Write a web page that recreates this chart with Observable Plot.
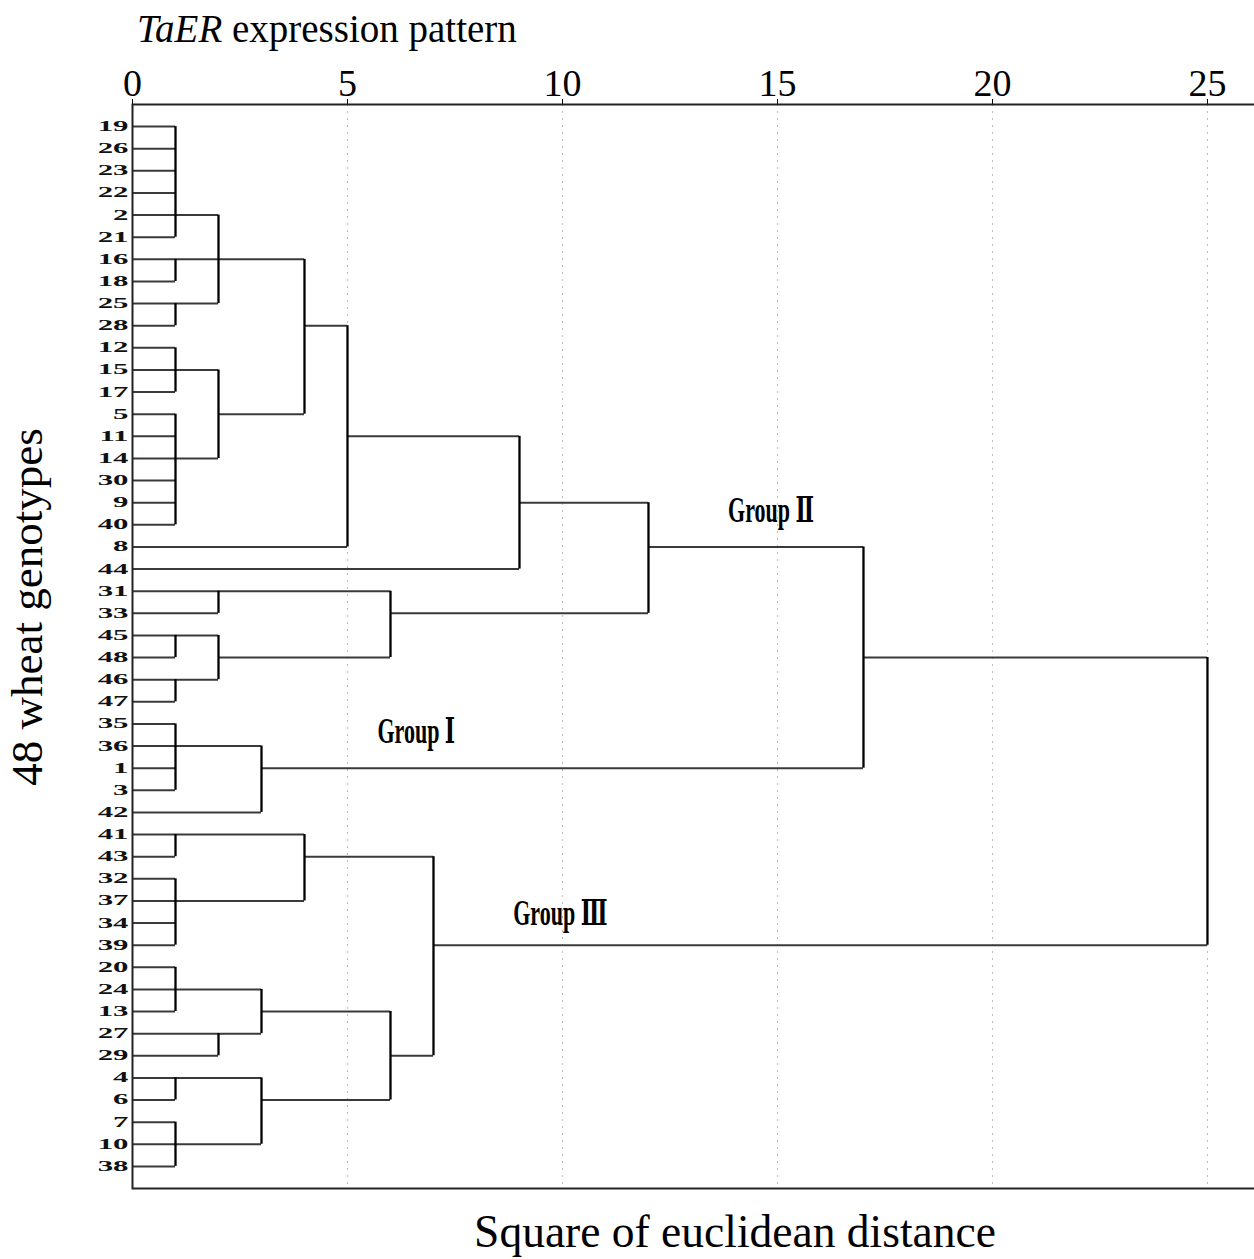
<!DOCTYPE html>
<html>
<head>
<meta charset="utf-8">
<script src="https://cdn.jsdelivr.net/npm/d3@7"></script>
<script src="https://cdn.jsdelivr.net/npm/@observablehq/plot@0.6"></script>
<style>
html, body { margin: 0; padding: 0; background: #fff; overflow: hidden; }
#wrap { position: relative; width: 1254px; height: 1259px; overflow: hidden; }
.lab { position: absolute; font-family: "Liberation Serif", "Times New Roman", serif; color: #000; white-space: nowrap; line-height: 1; }
#title { font-size: 39px; left: 137px; top: 9px; }
#xlab { font-size: 45.5px; left: 735px; top: 1209px; transform: translateX(-50%); }
#ylab { font-size: 45px; left: 27px; top: 607px; transform: translate(-50%, -50%) rotate(-90deg); }
</style>
</head>
<body>
<div id="wrap">
  <div id="chart"></div>
  <div class="lab" id="title"><i>TaER</i> expression pattern</div>
  <div class="lab" id="ylab">48 wheat genotypes</div>
  <div class="lab" id="xlab">Square of euclidean distance</div>
</div>
<script>
// Leaf order (top to bottom)
const leaves = ["19","26","23","22","2","21","16","18","25","28","12","15","17","5","11","14","30","9","40","8","44",
  "31","33","45","48","46","47","35","36","1","3","42","41","43","32","37","34","39","20","24","13","27","29",
  "4","6","7","10","38"];

// Merges: name, children, distance (rescaled 0-25), leaf row where the merged branch leaves
const clusterNames = ["A","B","C","ABC","E","F","EF","D4","D5","D9","G","H","I","HI","GHI","D12","J","J3","D17",
  "K","L","KL","M","N","MN","O","P","OP","MNOP","D7","ROOT"];
const clusterChildren = [
  ["19","26","23","22","2","21"], ["16","18"], ["25","28"], ["A","B","C"],
  ["12","15","17"], ["5","11","14","30","9","40"], ["E","F"], ["ABC","EF"], ["D4","8"], ["D5","44"],
  ["31","33"], ["45","48"], ["46","47"], ["H","I"], ["G","HI"], ["D9","GHI"],
  ["35","36","1","3"], ["J","42"], ["D12","J3"],
  ["41","43"], ["32","37","34","39"], ["K","L"], ["20","24","13"], ["27","29"], ["M","N"],
  ["4","6"], ["7","10","38"], ["O","P"], ["MN","OP"], ["KL","MNOP"], ["D17","D7"]
];
const clusterHeights = [1,1,1,2, 1,1,2,4,5,9, 2,1,1,2,6,12, 1,3,17, 1,1,4,1,2,3, 1,1,3,6,7,25];
const clusterOutLeaf = ["2","16","25","16", "15","14","5","28","11","9", "31","45","46","48","33","8",
  "36","1","48", "41","37","43","24","27","13", "4","10","6","29","39", null];

// Axis ticks
const tickValues = [0, 5, 10, 15, 20, 25];

// Group annotations
const groupNames = ["Group Ⅰ", "Group Ⅱ", "Group Ⅲ"];
const groupX = [6.6, 14.85, 9.95];
const groupRow = [27.35, 17.36, 35.58];

// Build dendrogram segments from the merge table
const rowOf = new Map(leaves.map((l, i) => [l, i]));
const node = new Map();
leaves.forEach(l => node.set(l, {h: 0, row: rowOf.get(l)}));
clusterNames.forEach((n, i) => node.set(n, {h: clusterHeights[i], row: clusterOutLeaf[i] == null ? null : rowOf.get(clusterOutLeaf[i])}));
const horiz = [], vert = [];
clusterNames.forEach((n, i) => {
  const h = clusterHeights[i];
  const rows = clusterChildren[i].map(c => node.get(c).row);
  vert.push({x: h, y1: Math.min(...rows), y2: Math.max(...rows)});
  clusterChildren[i].forEach(c => {
    const ch = node.get(c);
    horiz.push({x1: ch.h, x2: h, y: ch.row});
  });
});
const groups = groupNames.map((g, i) => ({name: g, x: groupX[i], y: groupRow[i]}));

const chart = Plot.plot({
  width: 1262,
  height: 1259,
  marginTop: 104,
  marginBottom: 71,
  marginLeft: 132,
  marginRight: 0,
  style: {fontFamily: "Liberation Serif, serif", fontSize: "38px", color: "#000", background: "#fff", maxWidth: "none"},
  x: {domain: [0, 26.28], axis: "top", ticks: tickValues, tickSize: 6, tickPadding: 3, label: null, tickFormat: d => String(d)},
  y: {domain: [-1, 48], reverse: true, axis: null},
  marks: [
    Plot.ruleX(tickValues.filter(v => v > 0), {stroke: "#bdbdbd", strokeWidth: 1, strokeDasharray: "2,5"}),
    Plot.ruleY(horiz, {y: "y", x1: "x1", x2: "x2", stroke: "#3a3a3a", strokeWidth: 2}),
    Plot.ruleX(vert, {x: "x", y1: "y1", y2: "y2", stroke: "#000", strokeWidth: 2.3}),
    Plot.frame({stroke: "#222", strokeWidth: 2}),
    Plot.text(leaves, {y: (d, i) => i, text: d => d, frameAnchor: "left", textAnchor: "end", dx: -4,
      fontWeight: "bold", fontSize: 14, fontFamily: "Liberation Serif, serif", fill: "#111"}),
    Plot.text(groups, {x: "x", y: "y", text: "name", textAnchor: "middle", fontSize: 22, fontWeight: "bold",
      fontFamily: "Liberation Serif, DejaVu Serif, serif", fill: "#000"})
  ]
});
document.getElementById("chart").appendChild(chart);

// Glyph stretching to match the reference's distorted lettering (style only)
function stretch(fontSize, sx, sy) {
  chart.querySelectorAll(`g[font-size="${fontSize}"] text`).forEach(t => {
    const tr = t.getAttribute("transform");
    if (tr) t.setAttribute("transform", tr + ` scale(${sx},${sy})`);
    else {
      const x = +t.getAttribute("x") || 0, y = +t.getAttribute("y") || 0;
      t.setAttribute("transform", `translate(${x},${y}) scale(${sx},${sy}) translate(${-x},${-y})`);
    }
  });
}
stretch(14, 2.2, 1);
stretch(22, 1, 1.65);
</script>
</body>
</html>
